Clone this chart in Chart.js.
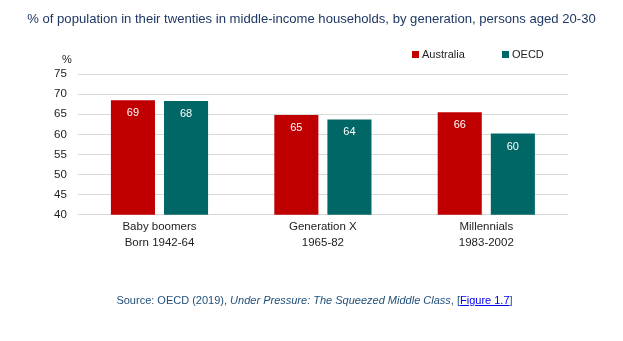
<!DOCTYPE html>
<html>
<head>
<meta charset="utf-8">
<script src="https://cdn.jsdelivr.net/npm/chart.js@4"></script>
<style>
  body { margin: 0; background: #fff; }
  #wrap { position: relative; width: 623px; height: 341px; }
  #title { position: absolute; left: 0; top: 11px; width: 623px; text-align: center;
    font: 13.1px "Liberation Sans", Arial, sans-serif; color: #1f3864; }
  #source { position: absolute; left: 6px; top: 294px; width: 617px; text-align: center;
    font: 11px "Liberation Sans", Arial, sans-serif; color: #1f4e79; }
  #source a { color: #0000ee; }
  canvas { position: absolute; left: 0; top: 0; }
</style>
</head>
<body>
<div id="wrap">
  <canvas id="chart" width="623" height="341"></canvas>
  <div id="title">% of population in their twenties in middle-income households, by generation, persons aged 20-30</div>
  <div id="source">Source: OECD (2019), <i>Under Pressure: The Squeezed Middle Class</i>, [<a href="#">Figure 1.7</a>]</div>
</div>
<script>
// generations on the x axis
const generations = [
  ['Baby boomers', 'Born 1942-64'],
  ['Generation X', '1965-82'],
  ['Millennials', '1983-2002']
];
const australia = [68.5, 64.8, 65.5];
const oecd = [68.3, 63.7, 60.2];

const RED = '#c00000';
const TEAL = '#006666';
const labelFont = '"Liberation Sans", Arial, sans-serif';

// white numbers at the top of each bar
const barValues = {
  id: 'barValues',
  afterDatasetsDraw(chart) {
    const ctx = chart.ctx;
    ctx.save();
    ctx.fillStyle = '#ffffff';
    ctx.font = '11px ' + labelFont;
    ctx.textAlign = 'center';
    ctx.textBaseline = 'middle';
    chart.data.datasets.forEach((ds, i) => {
      chart.getDatasetMeta(i).data.forEach((bar, j) => {
        ctx.fillText(Math.round(ds.data[j]), bar.x, bar.y + 13);
      });
    });
    ctx.restore();
  }
};

// "%" above the y ticks and the small legend at top right
const extras = {
  id: 'extras',
  afterDraw(chart) {
    const ctx = chart.ctx;
    const y = chart.scales.y;
    ctx.save();
    ctx.fillStyle = '#222';
    ctx.font = '11px ' + labelFont;
    ctx.textAlign = 'right';
    ctx.textBaseline = 'middle';
    ctx.fillText('%', y.right - 6, y.top - 14);

    // legend
    const legendX = [412, 502];
    ctx.textAlign = 'left';
    ctx.font = '11px ' + labelFont;
    chart.data.datasets.forEach((ds, i) => {
      ctx.fillStyle = ds.backgroundColor;
      ctx.fillRect(legendX[i], 51, 7, 7);
      ctx.fillStyle = '#222';
      ctx.fillText(ds.label, legendX[i] + 10, 55);
    });
    ctx.restore();
  }
};

new Chart(document.getElementById('chart'), {
  type: 'bar',
  data: {
    labels: generations,
    datasets: [
      { label: 'Australia', data: australia, backgroundColor: RED },
      { label: 'OECD', data: oecd, backgroundColor: TEAL }
    ]
  },
  options: {
    responsive: false,
    animation: false,
    layout: { padding: { top: 74, left: 43, right: 55, bottom: 86 } },
    datasets: { bar: { categoryPercentage: 0.65, barPercentage: 0.83 } },
    plugins: {
      title: { display: false },
      tooltip: { enabled: false },
      legend: { display: false }
    },
    scales: {
      x: {
        grid: { display: false, drawTicks: false },
        border: { display: false },
        ticks: { color: '#222', font: { family: labelFont, size: 11.5, lineHeight: 1.4 }, padding: 4 }
      },
      y: {
        min: 40, max: 75,
        grid: { color: '#d9d9d9', drawTicks: false },
        border: { display: false },
        ticks: { stepSize: 5, autoSkip: false, color: '#222', font: { family: labelFont, size: 11.5 }, padding: 11 }
      }
    }
  },
  plugins: [barValues, extras]
});
</script>
</body>
</html>
